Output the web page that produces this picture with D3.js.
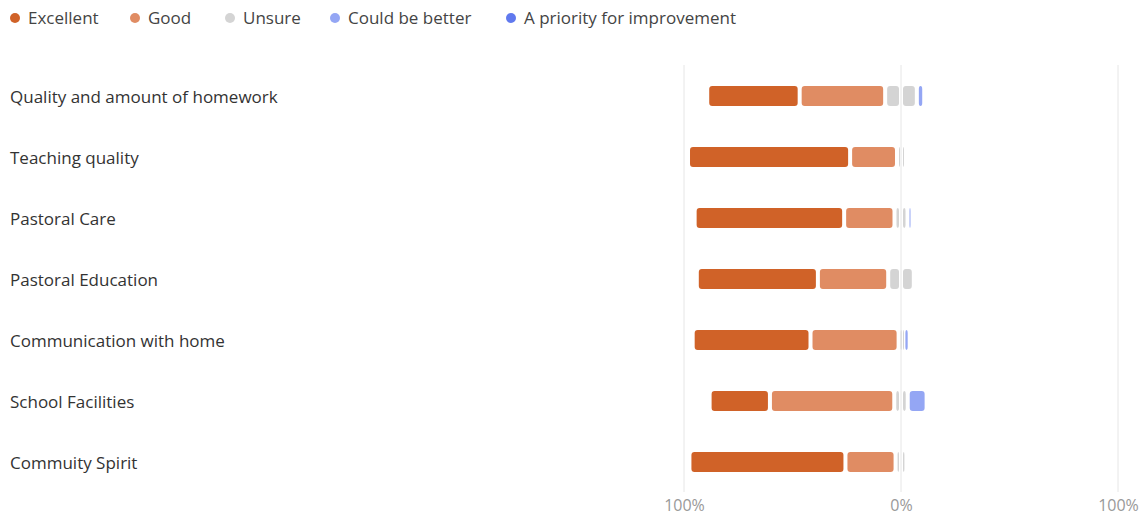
<!DOCTYPE html>
<html>
<head>
<meta charset="utf-8">
<script src="https://cdn.jsdelivr.net/npm/d3@7"></script>
<style>
  body { margin: 0; background: #fff; font-family: "Open Sans", "Noto Sans", sans-serif; }
  svg text { font-family: "Open Sans", "Noto Sans", sans-serif; }
</style>
</head>
<body>
<div id="chart"></div>
<script>
const w = 1144;
const h = 516;

const categories = [
  "Quality and amount of homework",
  "Teaching quality",
  "Pastoral Care",
  "Pastoral Education",
  "Communication with home",
  "School Facilities",
  "Commuity Spirit"
];
const seriesNames = ["Excellent", "Good", "Unsure", "Could be better", "A priority for improvement"];
const excellent     = [42.6, 74.7, 68.9, 55.8, 54.3, 27.8, 71.9];
const good          = [39.4, 21.6, 23.2, 32.4, 40.6, 57.3, 23.1];
const unsure        = [14.6, 3.7, 6.0, 11.8, 2.2, 6.2, 5.0];
const couldBeBetter = [3.4, 0, 1.9, 0, 2.9, 8.7, 0];
const priority      = [0, 0, 0, 0, 0, 0, 0];
const tickValues = [-100, 0, 100];

const colors = ["#d06228", "#e08c63", "#d4d4d4", "#94a6f4", "#6079ee"];

const x = d3.scaleLinear().domain([-100, 100]).range([684, 1118]);
const y = d3.scaleBand().domain(categories).range([65.5, 492.5]);
const barH = 20;
const inset = 2;

const svg = d3.select("#chart").append("svg")
  .attr("width", w).attr("height", h);

// legend
const legendX = [15, 135, 230, 335, 511];
const legend = svg.append("g").attr("id", "legend");
seriesNames.forEach((name, i) => {
  const g = legend.append("g").attr("transform", "translate(" + legendX[i] + ",18)");
  g.append("circle").attr("r", 5).attr("fill", colors[i]);
  g.append("text").attr("x", 13).attr("dy", "0.35em")
    .style("font-size", "17px").attr("fill", "#444").text(name);
});

// grid lines
svg.append("g").selectAll("line")
  .data(tickValues)
  .enter().append("line")
  .attr("x1", d => x(d)).attr("x2", d => x(d))
  .attr("y1", 65).attr("y2", 492)
  .attr("stroke", "#e6e6e6").attr("stroke-width", 1);

// x axis
const xAxis = d3.axisBottom(x)
  .tickValues(tickValues)
  .tickSize(0)
  .tickFormat(d => Math.abs(d) + "%");
const ax = svg.append("g")
  .attr("transform", "translate(0,497)")
  .call(xAxis);
ax.select(".domain").remove();
ax.selectAll("text").style("font-size", "16px").attr("fill", "#999")
  .attr("font-family", null);

// category labels
svg.append("g").selectAll("text")
  .data(categories)
  .enter().append("text")
  .attr("x", 10)
  .attr("y", d => y(d) + y.bandwidth() / 2 + 1)
  .attr("dy", "0.35em")
  .style("font-size", "17px")
  .attr("fill", "#333")
  .text(d => d);

// build segments: unsure split in two halves around 0
const segments = [];
categories.forEach((cat, i) => {
  const parts = [
    [excellent[i], 0],
    [good[i], 1],
    [unsure[i] / 2, 2],
    [unsure[i] / 2, 2],
    [couldBeBetter[i], 3],
    [priority[i], 4]
  ];
  let start = -(excellent[i] + good[i] + unsure[i] / 2);
  parts.forEach(([v, c]) => {
    if (v > 0) segments.push({ cat: cat, x0: start, x1: start + v, c: c });
    start += v;
  });
});

svg.append("g").selectAll("rect")
  .data(segments)
  .enter().append("rect")
  .attr("x", d => x(d.x0) + inset)
  .attr("y", d => y(d.cat) + y.bandwidth() / 2 - barH / 2)
  .attr("width", d => Math.max(x(d.x1) - x(d.x0) - 2 * inset, 1))
  .attr("height", barH)
  .attr("rx", 3)
  .attr("fill", d => colors[d.c]);
</script>
</body>
</html>
